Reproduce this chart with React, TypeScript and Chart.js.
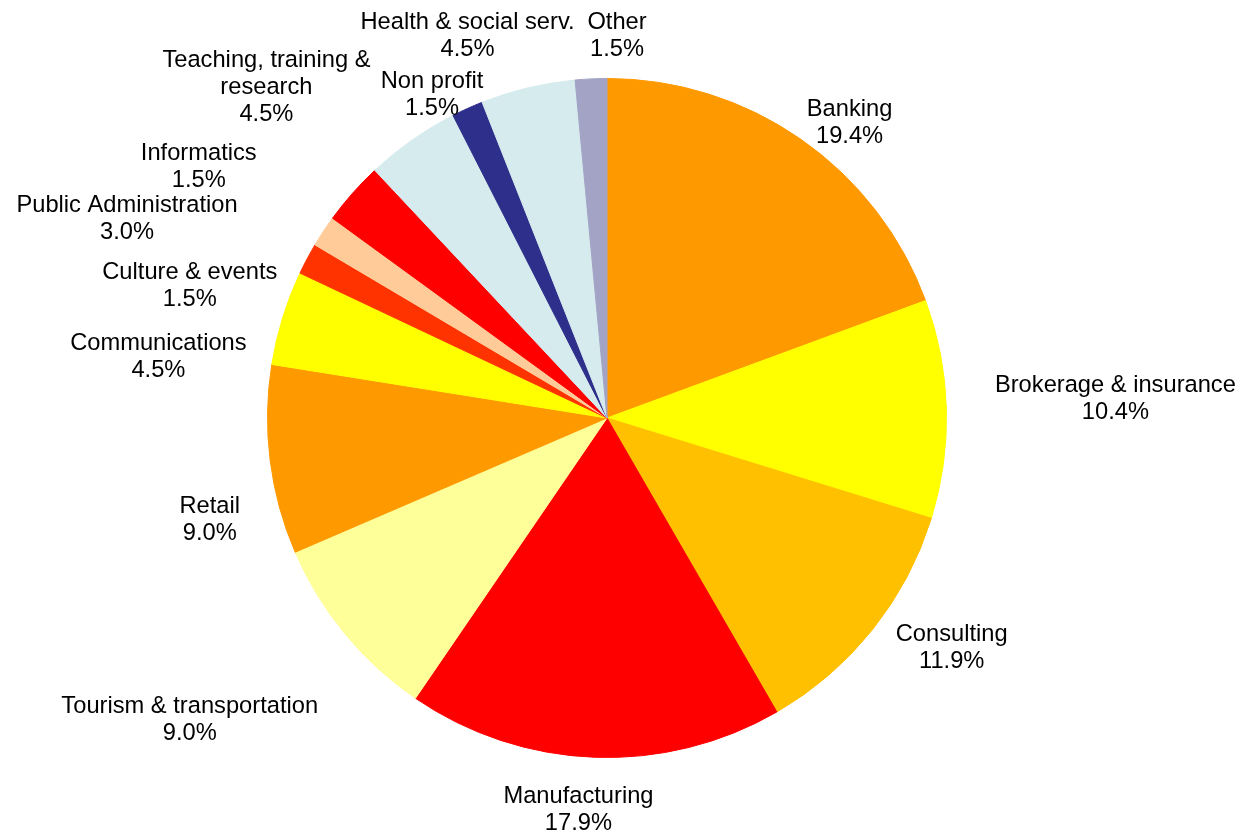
import React, { useEffect, useRef } from "react";
import { Chart, registerables } from "chart.js";

Chart.register(...registerables);

const categories = [
  "Banking",
  "Brokerage & insurance",
  "Consulting",
  "Manufacturing",
  "Tourism & transportation",
  "Retail",
  "Communications",
  "Culture & events",
  "Informatics",
  "Public Administration",
  "Teaching, training &\nresearch",
  "Non profit",
  "Health & social serv.",
  "Other",
];

const values = [19.4, 10.4, 11.9, 17.9, 9.0, 9.0, 4.5, 1.5, 1.5, 3.0, 4.5, 1.5, 4.5, 1.5];

const colors = [
  "#FF9900",
  "#FFFF00",
  "#FFC000",
  "#FF0000",
  "#FFFF99",
  "#FF9900",
  "#FFFF00",
  "#FF3300",
  "#FFCC99",
  "#FF0000",
  "#D6EBEE",
  "#2E2E8B",
  "#D6EBEE",
  "#A3A3C5",
];

// label layout tweaks (px) applied after geometric placement outside each slice
const labelNudges: [number, number][] = [
  [9.6, 23.9],
  [23.6, -10.1],
  [16, -15.6],
  [-12, -1.2],
  [-36.8, 51],
  [-5.5, 51.8],
  [-16.1, 52.6],
  [-17.9, 49.6],
  [-55.4, -37.7],
  [-123.9, 58.2],
  [-71.4, -1.3],
  [-4, 32.3],
  [-29.5, -3.3],
  [28.6, 6.6],
];

const FONT = '23.7px "Liberation Sans", Arial, sans-serif';
const LINE = 27;
const GAP = 25;

const outsideLabels = {
  id: "outsideLabels",
  afterDatasetsDraw(chart: any) {
    const ctx = chart.ctx;
    const meta = chart.getDatasetMeta(0);
    ctx.save();
    ctx.font = FONT;
    ctx.fillStyle = "#000000";
    ctx.textAlign = "center";
    ctx.textBaseline = "alphabetic";
    meta.data.forEach((arc: any, i: number) => {
      const p = arc.getProps(["x", "y", "startAngle", "endAngle", "outerRadius"], true);
      const mid = (p.startAngle + p.endAngle) / 2;
      const ux = Math.cos(mid);
      const uy = Math.sin(mid);
      const lines = [...categories[i].split("\n"), values[i].toFixed(1) + "%"];
      const w = Math.max(...lines.map((l) => ctx.measureText(l).width));
      const h = lines.length * LINE;
      const d = p.outerRadius + GAP;
      const nudge = labelNudges[i] || [0, 0];
      const cx = p.x + d * ux + (ux * w) / 2 + nudge[0];
      const cy = p.y + d * uy + (uy * h) / 2 + nudge[1];
      lines.forEach((l, k) => {
        const y = cy - ((lines.length - 1) * LINE) / 2 + k * LINE + 8.5;
        ctx.fillText(l, cx, y);
      });
    });
    ctx.restore();
  },
};

export default function App() {
  const ref = useRef<HTMLCanvasElement | null>(null);
  useEffect(() => {
    if (!ref.current) return;
    const chart = new Chart(ref.current, {
      type: "pie",
      data: {
        labels: categories.map((c) => c.replace("\n", " ")),
        datasets: [
          {
            data: values,
            backgroundColor: colors,
            borderColor: colors,
            borderWidth: 1,
          },
        ],
      },
      options: {
        responsive: false,
        animation: false,
        layout: { padding: { top: 78, bottom: 78, left: 267, right: 295 } },
        plugins: {
          legend: { display: false },
          tooltip: { enabled: false },
        },
      },
      plugins: [outsideLabels],
    });
    return () => chart.destroy();
  }, []);
  return (
    <div style={{ position: "absolute", left: 0, top: 0, width: 1242, height: 836, background: "#fff" }}>
      <canvas ref={ref} width={1242} height={836} style={{ width: 1242, height: 836, display: "block" }} />
    </div>
  );
}
